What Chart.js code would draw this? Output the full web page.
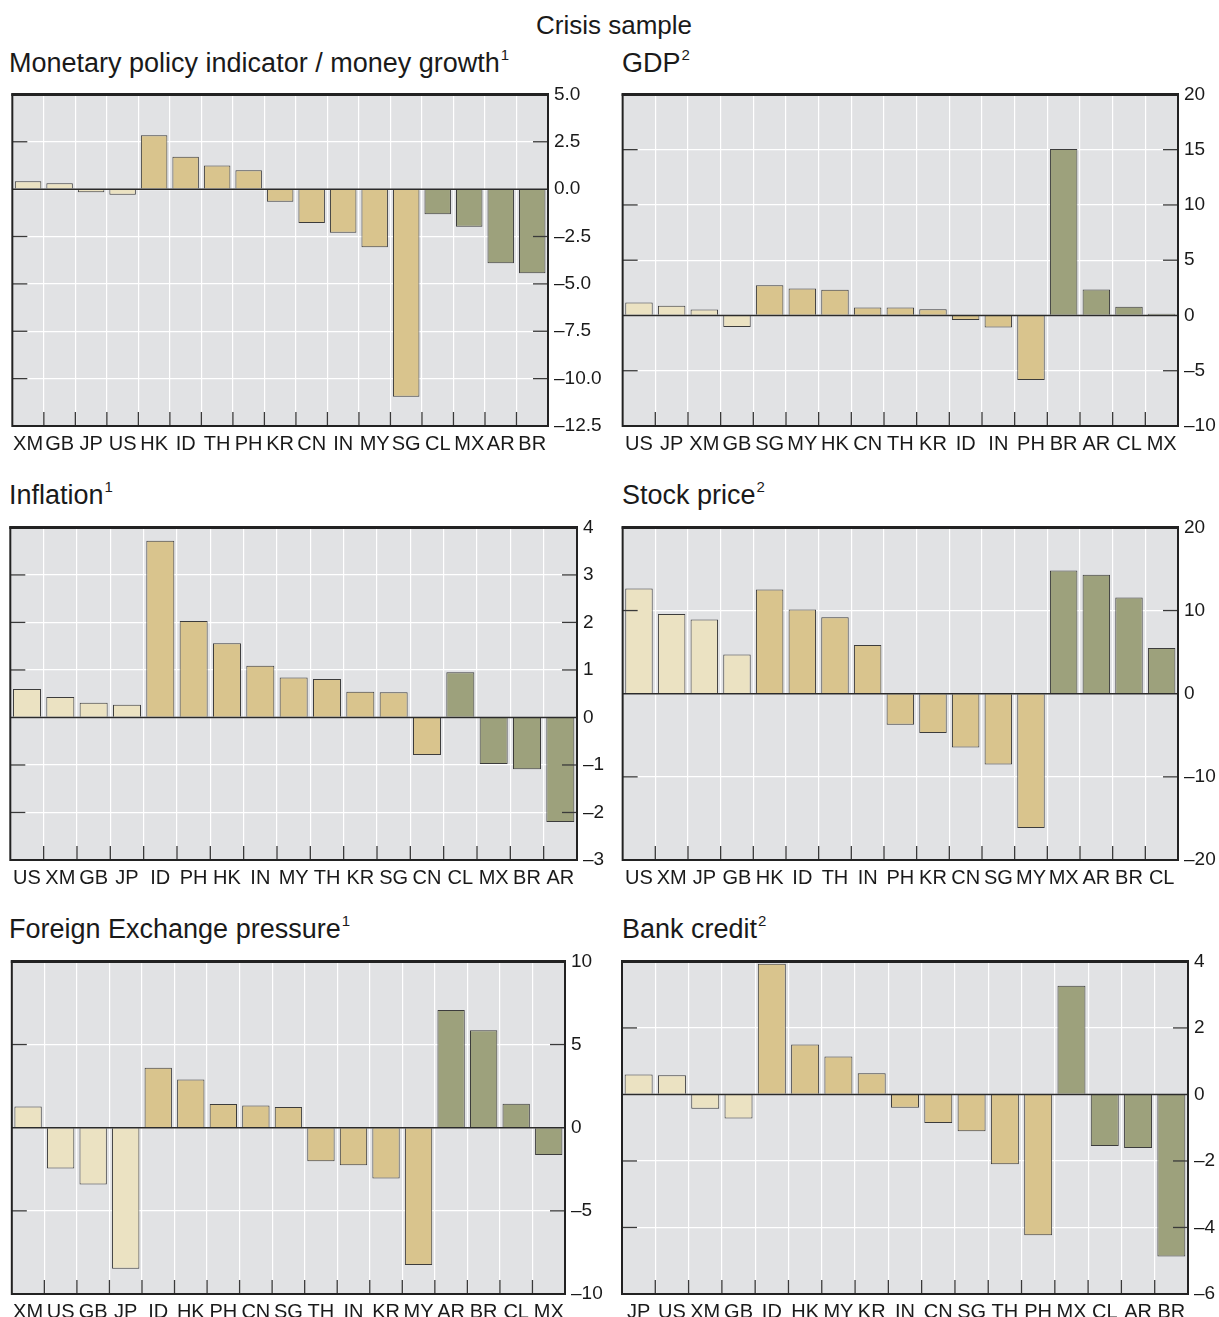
<!DOCTYPE html>
<html>
<head>
<meta charset="utf-8">
<script src="https://cdn.jsdelivr.net/npm/chart.js@4.4.0/dist/chart.umd.min.js"></script>
<style>
  html, body { margin: 0; padding: 0; background: #fff; overflow: hidden; }
  body { width: 1219px; height: 1317px; position: relative; font-family: "Liberation Sans", Arial, sans-serif; color: #1a1a1a; }
  .title { position: absolute; font-size: 27px; line-height: 30px; white-space: nowrap; }
  .title sup { font-size: 15px; vertical-align: 12px; line-height: 0; margin-left: 1px; }
  .panel { position: absolute; }
</style>
</head>
<body>
<div class="title" style="left:0;width:1228px;text-align:center;top:10px;font-size:26px;">Crisis sample</div>
<div class="title" style="left:9px;top:48px;">Monetary policy indicator / money growth<sup>1</sup></div>
<div class="title" style="left:622px;top:48px;">GDP<sup>2</sup></div>
<div class="title" style="left:9px;top:480px;">Inflation<sup>1</sup></div>
<div class="title" style="left:622px;top:480px;">Stock price<sup>2</sup></div>
<div class="title" style="left:9px;top:914px;">Foreign Exchange pressure<sup>1</sup></div>
<div class="title" style="left:622px;top:914px;">Bank credit<sup>2</sup></div>

<div class="panel" id="p1"><canvas id="c1"></canvas></div>
<div class="panel" id="p2"><canvas id="c2"></canvas></div>
<div class="panel" id="p3"><canvas id="c3"></canvas></div>
<div class="panel" id="p4"><canvas id="c4"></canvas></div>
<div class="panel" id="p5"><canvas id="c5"></canvas></div>
<div class="panel" id="p6"><canvas id="c6"></canvas></div>

<script>
// country groups (bar colour)
const advanced = ['US', 'XM', 'GB', 'JP'];
const latam = ['CL', 'MX', 'AR', 'BR'];

const monetaryCats = ['XM','GB','JP','US','HK','ID','TH','PH','KR','CN','IN','MY','SG','CL','MX','AR','BR'];
const monetaryVals = [0.42, 0.31, -0.16, -0.3, 2.85, 1.71, 1.25, 1.0, -0.67, -1.79, -2.3, -3.07, -10.95, -1.32, -1.98, -3.91, -4.44];
const monetaryTicks = [-12.5, 5, 2.5];

const gdpCats = ['US','JP','XM','GB','SG','MY','HK','CN','TH','KR','ID','IN','PH','BR','AR','CL','MX'];
const gdpVals = [1.17, 0.87, 0.54, -1.05, 2.74, 2.44, 2.32, 0.72, 0.72, 0.57, -0.42, -1.08, -5.84, 15.06, 2.35, 0.78, 0.15];
const gdpTicks = [-10, 20, 5];

const inflationCats = ['US','XM','GB','JP','ID','PH','HK','IN','MY','TH','KR','SG','CN','CL','MX','BR','AR'];
const inflationVals = [0.6, 0.43, 0.31, 0.27, 3.72, 2.03, 1.56, 1.09, 0.84, 0.81, 0.54, 0.53, -0.79, 0.95, -0.98, -1.09, -2.2];
const inflationTicks = [-3, 4, 1];

const stockCats = ['US','XM','JP','GB','HK','ID','TH','IN','PH','KR','CN','SG','MY','MX','AR','BR','CL'];
const stockVals = [12.65, 9.6, 8.92, 4.7, 12.53, 10.12, 9.2, 5.86, -3.73, -4.74, -6.47, -8.51, -16.14, 14.82, 14.3, 11.57, 5.5];
const stockTicks = [-20, 20, 10];

const fxCats = ['XM','US','GB','JP','ID','HK','PH','CN','SG','TH','IN','KR','MY','AR','BR','CL','MX'];
const fxVals = [1.28, -2.46, -3.42, -8.48, 3.6, 2.9, 1.42, 1.34, 1.24, -2.02, -2.26, -3.06, -8.26, 7.08, 5.86, 1.44, -1.64];
const fxTicks = [-10, 10, 5];

const creditCats = ['JP','US','XM','GB','ID','HK','MY','KR','IN','CN','SG','TH','PH','MX','CL','AR','BR'];
const creditVals = [0.6, 0.58, -0.43, -0.72, 3.93, 1.5, 1.14, 0.64, -0.4, -0.86, -1.11, -2.1, -4.23, 3.27, -1.55, -1.61, -4.87];
const creditTicks = [-6, 4, 2];

const colorFor = (c) => advanced.includes(c) ? '#ebe2c2' : latam.includes(c) ? '#9da17c' : '#d9c48d';

// chart area sits OFF_T px below the wrapper top (padding + label overhang)
const PAD_L = 3, PAD_T = 12, OFF_T = 17, LABEL_H = 30;

const framePlugin = {
    id: 'frame',
    beforeDraw(chart) {
        const { ctx, chartArea: a } = chart;
        ctx.save();
        ctx.fillStyle = '#e1e2e4';
        ctx.fillRect(a.left, a.top, a.right - a.left, a.bottom - a.top);
        ctx.restore();
    },
    afterDatasetsDraw(chart) {
        const { ctx, chartArea: a, scales: { x, y } } = chart;
        const line = (x1, y1, x2, y2) => { ctx.beginPath(); ctx.moveTo(x1, y1); ctx.lineTo(x2, y2); ctx.stroke(); };
        ctx.save();
        ctx.strokeStyle = '#2b2b2b';
        ctx.lineWidth = 1.5;
        const y0 = y.getPixelForValue(0);
        line(a.left, y0, a.right, y0);
        ctx.strokeStyle = '#3a3a3a';
        ctx.lineWidth = 1.3;
        y.ticks.forEach(t => {
            if (t.value === y.min || t.value === y.max || t.value === 0) return;
            const py = y.getPixelForValue(t.value);
            line(a.left, py, a.left + 15, py);
            line(a.right - 15, py, a.right, py);
        });
        const n = chart.data.labels.length;
        for (let i = 1; i < n; i++) {
            const px = (x.getPixelForValue(i - 1) + x.getPixelForValue(i)) / 2;
            line(px, a.bottom - 14, px, a.bottom);
        }
        ctx.strokeStyle = '#222';
        ctx.lineWidth = 2;
        ctx.strokeRect(a.left, a.top, a.right - a.left, a.bottom - a.top);
        ctx.lineWidth = 3;
        line(a.left - 1, a.top, a.right + 1, a.top);
        ctx.restore();
    }
};

const panels = [
    { id: 'c1', box: [10, 548, 94, 426], labelW: 62, cats: monetaryCats, vals: monetaryVals, ticks: monetaryTicks, dec: 1 },
    { id: 'c2', box: [622, 1178, 94, 426], labelW: 41, cats: gdpCats, vals: gdpVals, ticks: gdpTicks, dec: 0 },
    { id: 'c3', box: [10, 577, 527, 860], labelW: 40, cats: inflationCats, vals: inflationVals, ticks: inflationTicks, dec: 0 },
    { id: 'c4', box: [622, 1178, 527, 860], labelW: 41, cats: stockCats, vals: stockVals, ticks: stockTicks, dec: 0 },
    { id: 'c5', box: [10, 565, 961, 1294], labelW: 45, cats: fxCats, vals: fxVals, ticks: fxTicks, dec: 0 },
    { id: 'c6', box: [622, 1188, 961, 1294], labelW: 31, cats: creditCats, vals: creditVals, ticks: creditTicks, dec: 0 }
];

const fmt = (v, dec) => (v < 0 ? '\u2013' : '') + Math.abs(v).toFixed(dec);

panels.forEach(p => {
    const [left, right, top, bottom] = p.box;
    const wrap = document.getElementById(p.id).parentNode;
    wrap.style.left = (left - PAD_L) + 'px';
    wrap.style.top = (top - OFF_T) + 'px';
    wrap.style.width = (right - left + PAD_L + p.labelW) + 'px';
    wrap.style.height = (bottom - top + OFF_T + LABEL_H) + 'px';

    new Chart(document.getElementById(p.id), {
        type: 'bar',
        data: {
            labels: p.cats,
            datasets: [{
                data: p.vals,
                backgroundColor: p.cats.map(colorFor),
                borderColor: '#3c3c3c',
                borderWidth: 1,
                barPercentage: 0.84,
                categoryPercentage: 1
            }]
        },
        options: {
            responsive: true,
            maintainAspectRatio: false,
            animation: false,
            layout: { padding: { left: PAD_L, top: PAD_T, right: 0, bottom: 0 } },
            plugins: { legend: { display: false }, tooltip: { enabled: false } },
            scales: {
                x: {
                    offset: true,
                    grid: { offset: true, color: '#ffffff', lineWidth: 1.2, drawTicks: false },
                    border: { display: false },
                    ticks: {
                        color: '#1a1a1a', padding: 6, maxRotation: 0, autoSkip: false,
                        font: { family: '"Liberation Sans", Arial, sans-serif', size: 20 }
                    },
                    afterFit: s => { s.height = LABEL_H; }
                },
                y: {
                    position: 'right',
                    min: p.ticks[0], max: p.ticks[1],
                    grid: { color: '#ffffff', lineWidth: 1.2, drawTicks: false },
                    border: { display: false },
                    ticks: {
                        stepSize: p.ticks[2], padding: 6, color: '#1a1a1a',
                        font: { family: '"Liberation Sans", Arial, sans-serif', size: 19 },
                        callback: v => fmt(v, p.dec)
                    },
                    afterFit: s => { s.width = p.labelW; }
                }
            }
        },
        plugins: [framePlugin]
    });
});
</script>
</body>
</html>
